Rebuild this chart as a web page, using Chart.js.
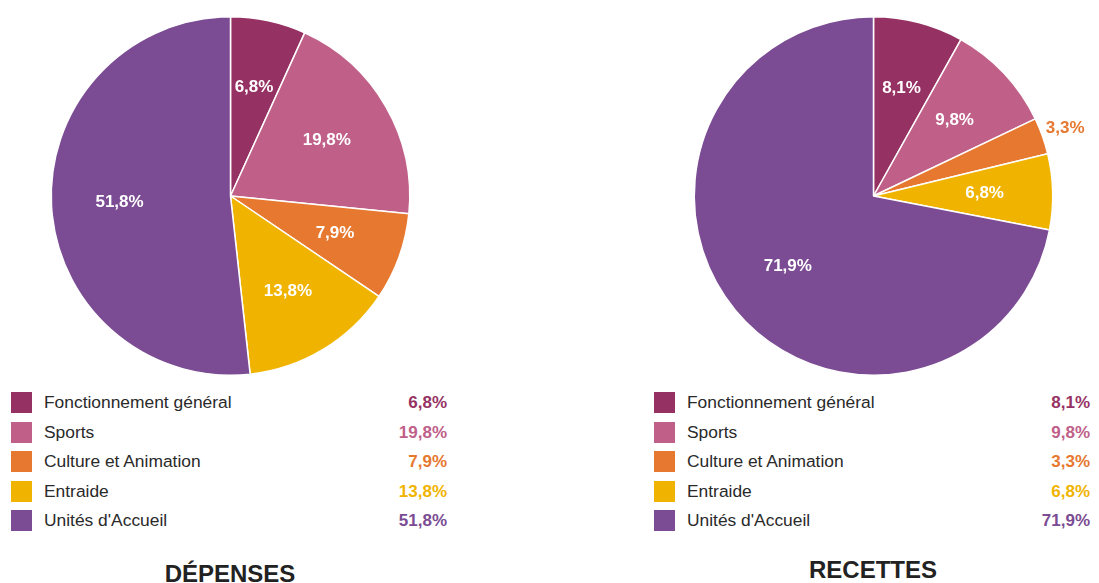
<!DOCTYPE html>
<html><head><meta charset="utf-8">
<script src="https://cdn.jsdelivr.net/npm/chart.js@4.4.1/dist/chart.umd.min.js"></script>
<style>
html,body{margin:0;padding:0;background:#fff;width:1099px;height:583px;overflow:hidden;font-family:"Liberation Sans",Arial,sans-serif;}
.wrap{position:absolute;}
.legrow{position:absolute;height:22px;}
.sw{position:absolute;width:21px;height:21px;top:0;}
.lt{position:absolute;left:33px;top:0;line-height:21px;font-size:17.4px;color:#2a2a2a;white-space:nowrap;}
.lv{position:absolute;top:0;line-height:21px;font-size:17px;font-weight:bold;text-align:right;white-space:nowrap;}
.title{position:absolute;font-size:24px;font-weight:bold;color:#222;white-space:nowrap;transform:translateX(-50%);}
</style></head>
<body>
<div class="wrap" id="w1" style="left:0;top:0;width:460px;height:392px;"><canvas id="c1"></canvas></div>
<div class="wrap" id="w2" style="left:640px;top:0;width:459px;height:392px;"><canvas id="c2"></canvas></div>
<div id="leg"></div>
<div class="title" style="left:230px;top:560px;">DÉPENSES</div>
<div class="title" style="left:873px;top:556px;">RECETTES</div>
<script>
const categories = ["Fonctionnement général","Sports","Culture et Animation","Entraide","Unités d'Accueil"];
const depenses = [6.8, 19.8, 7.9, 13.8, 51.8];
const recettes = [8.1, 9.8, 3.3, 6.8, 71.9];
const colors = ["#963263","#C06089","#E6782F","#F0B400","#7B4C93"];

function fmt(v){ return v.toFixed(1).replace('.', ',') + '%'; }

const labelPlugin = {
  id:'sliceLabels',
  afterDatasetsDraw(chart){
    const ctx = chart.ctx;
    const meta = chart.getDatasetMeta(0);
    const data = chart.data.datasets[0].data;
    ctx.save();
    ctx.font = 'bold 17px "Liberation Sans", Arial, sans-serif';
    ctx.textAlign = 'center';
    ctx.textBaseline = 'middle';
    meta.data.forEach((arc, i) => {
      const p = arc.getProps(['x','y','startAngle','endAngle','outerRadius'], true);
      const mid = (p.startAngle + p.endAngle) / 2;
      const small = data[i] < 5;
      const r = small ? p.outerRadius * 1.135 : p.outerRadius * 0.62;
      const x = p.x + Math.cos(mid) * r;
      const y = p.y + Math.sin(mid) * r;
      ctx.fillStyle = small ? colors[i] : '#ffffff';
      ctx.fillText(fmt(data[i]), x, y);
    });
    ctx.restore();
  }
};

function makePie(id, values, pad){
  return new Chart(document.getElementById(id), {
    type:'pie',
    data:{ labels:categories, datasets:[{ data:values, backgroundColor:colors, borderColor:'#ffffff', borderWidth:1.5, hoverOffset:0 }]},
    options:{
      responsive:true, maintainAspectRatio:false, animation:false,
      layout:{ padding:pad },
      plugins:{ legend:{display:false}, tooltip:{enabled:false} },
      events:[]
    },
    plugins:[labelPlugin]
  });
}
makePie('c1', depenses, {left:50, right:49, top:16, bottom:16});
makePie('c2', recettes, {left:53, right:45, top:16, bottom:16});

// legends
const leg = document.getElementById('leg');
function buildLegend(values, left, valRight){
  const rowTops = [392, 421.5, 451, 480.5, 510];
  categories.forEach((c, i) => {
    const row = document.createElement('div');
    row.className = 'legrow';
    row.style.left = left + 'px';
    row.style.top = rowTops[i] + 'px';
    row.style.width = (valRight - left) + 'px';
    row.innerHTML = '<div class="sw" style="background:'+colors[i]+'"></div>' +
      '<div class="lt"></div>' +
      '<div class="lv" style="right:0;color:'+colors[i]+'">'+fmt(values[i])+'</div>';
    row.querySelector('.lt').textContent = c;
    leg.appendChild(row);
  });
}
buildLegend(depenses, 11, 447);
buildLegend(recettes, 654, 1090);
</script>
</body></html>
